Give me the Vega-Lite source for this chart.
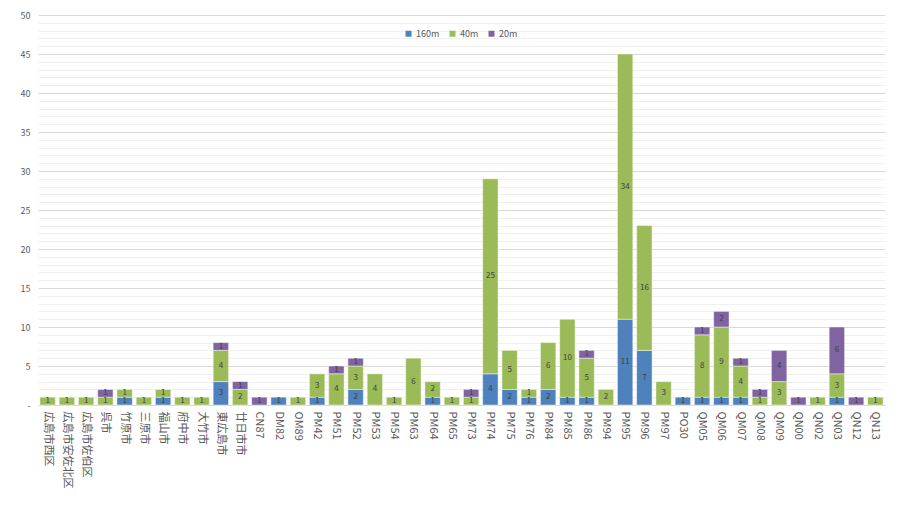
{
  "$schema": "https://vega.github.io/schema/vega-lite/v6.json",
  "autosize": {"type": "none"},
  "width": 847,
  "height": 390,
  "padding": {"left": 38, "top": 15, "right": 15, "bottom": 108},
  "background": "#ffffff",
  "config": {
    "view": {"stroke": null},
    "font": "Noto Sans CJK JP"
  },
  "data": {
    "values": [
      {"c": "広島市西区", "s": "40m", "v": 1},
      {"c": "広島市安佐北区", "s": "40m", "v": 1},
      {"c": "広島市佐伯区", "s": "40m", "v": 1},
      {"c": "呉市", "s": "40m", "v": 1},
      {"c": "呉市", "s": "20m", "v": 1},
      {"c": "竹原市", "s": "160m", "v": 1},
      {"c": "竹原市", "s": "40m", "v": 1},
      {"c": "三原市", "s": "40m", "v": 1},
      {"c": "福山市", "s": "160m", "v": 1},
      {"c": "福山市", "s": "40m", "v": 1},
      {"c": "府中市", "s": "40m", "v": 1},
      {"c": "大竹市", "s": "40m", "v": 1},
      {"c": "東広島市", "s": "160m", "v": 3},
      {"c": "東広島市", "s": "40m", "v": 4},
      {"c": "東広島市", "s": "20m", "v": 1},
      {"c": "廿日市市", "s": "40m", "v": 2},
      {"c": "廿日市市", "s": "20m", "v": 1},
      {"c": "CN87", "s": "20m", "v": 1},
      {"c": "DM82", "s": "160m", "v": 1},
      {"c": "OM89", "s": "40m", "v": 1},
      {"c": "PM42", "s": "160m", "v": 1},
      {"c": "PM42", "s": "40m", "v": 3},
      {"c": "PM51", "s": "40m", "v": 4},
      {"c": "PM51", "s": "20m", "v": 1},
      {"c": "PM52", "s": "160m", "v": 2},
      {"c": "PM52", "s": "40m", "v": 3},
      {"c": "PM52", "s": "20m", "v": 1},
      {"c": "PM53", "s": "40m", "v": 4},
      {"c": "PM54", "s": "40m", "v": 1},
      {"c": "PM63", "s": "40m", "v": 6},
      {"c": "PM64", "s": "160m", "v": 1},
      {"c": "PM64", "s": "40m", "v": 2},
      {"c": "PM65", "s": "40m", "v": 1},
      {"c": "PM73", "s": "40m", "v": 1},
      {"c": "PM73", "s": "20m", "v": 1},
      {"c": "PM74", "s": "160m", "v": 4},
      {"c": "PM74", "s": "40m", "v": 25},
      {"c": "PM75", "s": "160m", "v": 2},
      {"c": "PM75", "s": "40m", "v": 5},
      {"c": "PM76", "s": "160m", "v": 1},
      {"c": "PM76", "s": "40m", "v": 1},
      {"c": "PM84", "s": "160m", "v": 2},
      {"c": "PM84", "s": "40m", "v": 6},
      {"c": "PM85", "s": "160m", "v": 1},
      {"c": "PM85", "s": "40m", "v": 10},
      {"c": "PM86", "s": "160m", "v": 1},
      {"c": "PM86", "s": "40m", "v": 5},
      {"c": "PM86", "s": "20m", "v": 1},
      {"c": "PM94", "s": "40m", "v": 2},
      {"c": "PM95", "s": "160m", "v": 11},
      {"c": "PM95", "s": "40m", "v": 34},
      {"c": "PM96", "s": "160m", "v": 7},
      {"c": "PM96", "s": "40m", "v": 16},
      {"c": "PM97", "s": "40m", "v": 3},
      {"c": "PO30", "s": "160m", "v": 1},
      {"c": "QM05", "s": "160m", "v": 1},
      {"c": "QM05", "s": "40m", "v": 8},
      {"c": "QM05", "s": "20m", "v": 1},
      {"c": "QM06", "s": "160m", "v": 1},
      {"c": "QM06", "s": "40m", "v": 9},
      {"c": "QM06", "s": "20m", "v": 2},
      {"c": "QM07", "s": "160m", "v": 1},
      {"c": "QM07", "s": "40m", "v": 4},
      {"c": "QM07", "s": "20m", "v": 1},
      {"c": "QM08", "s": "40m", "v": 1},
      {"c": "QM08", "s": "20m", "v": 1},
      {"c": "QM09", "s": "40m", "v": 3},
      {"c": "QM09", "s": "20m", "v": 4},
      {"c": "QN00", "s": "20m", "v": 1},
      {"c": "QN02", "s": "40m", "v": 1},
      {"c": "QN03", "s": "160m", "v": 1},
      {"c": "QN03", "s": "40m", "v": 3},
      {"c": "QN03", "s": "20m", "v": 6},
      {"c": "QN12", "s": "20m", "v": 1},
      {"c": "QN13", "s": "40m", "v": 1}
    ]
  },
  "transform": [
    {"stack": "v", "groupby": ["c"], "as": ["v0", "v1"]}
  ],
  "encoding": {
    "x": {
      "field": "c",
      "type": "nominal",
      "sort": null,
      "title": null,
      "scale": {"paddingInner": 0.2, "paddingOuter": 0.1},
      "axis": {
        "labelAngle": 90,
        "labelAlign": "left",
        "labelBaseline": "middle",
        "labelFontSize": 11,
        "labelColor": "#595959",
        "labelPadding": 6,
        "ticks": false,
        "domainColor": "#d9d9d9",
        "grid": false
      }
    }
  },
  "layer": [
    {
      "mark": {"type": "bar", "stroke": "#ffffff", "strokeOpacity": 0.45, "strokeWidth": 1},
      "encoding": {
        "y": {
          "field": "v0",
          "type": "quantitative",
          "title": null,
          "scale": {"domain": [0, 50], "nice": false},
          "axis": {
            "values": [0,1,2,3,4,5,6,7,8,9,10,11,12,13,14,15,16,17,18,19,20,21,22,23,24,25,26,27,28,29,30,31,32,33,34,35,36,37,38,39,40,41,42,43,44,45,46,47,48,49,50],
            "labelExpr": "datum.value % 5 === 0 ? (datum.value === 0 ? '-' : datum.label) : ''",
            "labelFontSize": 9,
            "labelColor": "#595959",
            "labelPadding": 8,
            "ticks": false,
            "domain": false,
            "grid": true,
            "gridColor": {"condition": {"test": "datum.value % 5 === 0", "value": "#d9d9d9"}, "value": "#f0f0f0"},
            "gridWidth": 1
          }
        },
        "y2": {"field": "v1"},
        "color": {
          "field": "s",
          "type": "nominal",
          "scale": {"domain": ["160m", "40m", "20m"], "range": ["#4F81BD", "#9BBB59", "#8064A2"]},
          "legend": {
            "title": null,
            "orient": "none",
            "legendX": 366,
            "legendY": 14,
            "direction": "horizontal",
            "symbolType": "square",
            "symbolSize": 36,
            "symbolStrokeWidth": 0,
            "labelFontSize": 9,
            "labelColor": "#595959",
            "columnPadding": 8,
            "labelOffset": 3
          }
        }
      }
    },
    {
      "transform": [
        {"fold": ["v0", "v1"], "as": ["edge", "pos"]},
        {"aggregate": [{"op": "mean", "field": "pos", "as": "mid"}], "groupby": ["c", "s", "v"]}
      ],
      "mark": {"type": "text", "fontSize": 8, "color": "#404040", "baseline": "middle", "align": "center"},
      "encoding": {
        "y": {
          "field": "mid",
          "type": "quantitative",
          "title": null,
          "scale": {"domain": [0, 50], "nice": false},
          "axis": {
            "values": [0,1,2,3,4,5,6,7,8,9,10,11,12,13,14,15,16,17,18,19,20,21,22,23,24,25,26,27,28,29,30,31,32,33,34,35,36,37,38,39,40,41,42,43,44,45,46,47,48,49,50],
            "labelExpr": "datum.value % 5 === 0 ? (datum.value === 0 ? '-' : datum.label) : ''",
            "labelFontSize": 9,
            "labelColor": "#595959",
            "labelPadding": 8,
            "ticks": false,
            "domain": false,
            "grid": true,
            "gridColor": {"condition": {"test": "datum.value % 5 === 0", "value": "#d9d9d9"}, "value": "#f0f0f0"},
            "gridWidth": 1
          }
        },
        "text": {"field": "v", "type": "quantitative"}
      }
    }
  ]
}
